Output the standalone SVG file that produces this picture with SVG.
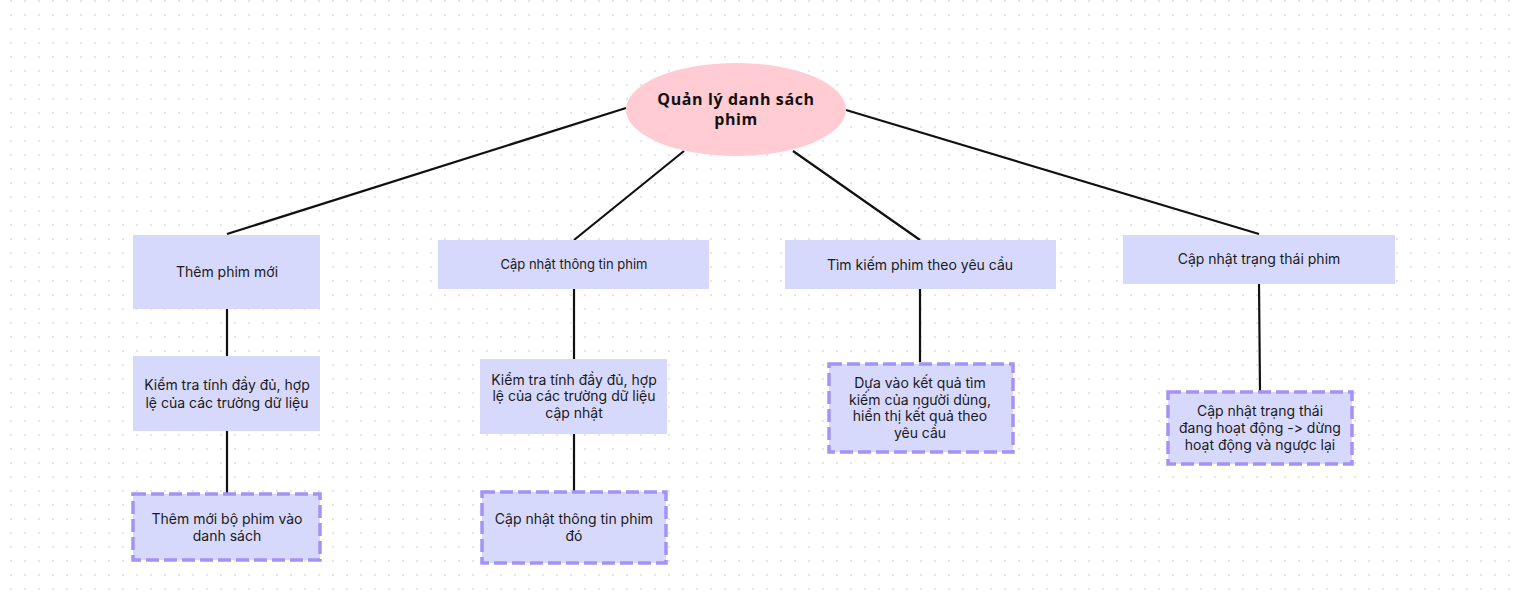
<svg xmlns="http://www.w3.org/2000/svg" width="1518" height="597" viewBox="0 0 1518 597">
<defs>
<pattern id="dots" x="10" y="0" width="14" height="14" patternUnits="userSpaceOnUse">
<rect x="0" y="0" width="2" height="2" fill="#e6e6e6"/>
</pattern>
<style>
.box{fill:#d7d9fc;}
.dash{fill:#d7d9fc;stroke:#a592f6;stroke-width:3.5;stroke-dasharray:13 5;}
.t{font-family:Inter,"Noto Sans",sans-serif;font-size:14px;fill:#1a1a1a;text-anchor:middle;font-variant-ligatures:none;font-feature-settings:"calt" 0,"liga" 0;}
.s{font-size:13px;}
.title{font-family:"Open Sans","Noto Sans",sans-serif;font-weight:bold;font-size:16px;letter-spacing:0.6px;fill:#111;text-anchor:middle;}
.edge{stroke:#111;stroke-width:2.2;fill:none;}
</style>
</defs>
<rect width="1518" height="597" fill="#ffffff"/>
<rect width="1518" height="597" fill="url(#dots)"/>
<g id="connectors">
<line class="edge" x1="626" y1="108" x2="227" y2="234"/>
<line class="edge" x1="684" y1="151" x2="574" y2="240"/>
<line class="edge" x1="793" y1="151" x2="920" y2="240"/>
<line class="edge" x1="846" y1="110" x2="1259" y2="234"/>
<line class="edge" x1="227" y1="309" x2="227" y2="356"/>
<line class="edge" x1="227" y1="431" x2="227" y2="493"/>
<line class="edge" x1="574" y1="289" x2="574" y2="359"/>
<line class="edge" x1="574" y1="434" x2="574" y2="491"/>
<line class="edge" x1="920" y1="289" x2="920" y2="362"/>
<line class="edge" x1="1259" y1="284" x2="1260" y2="391"/>
</g>
<g id="root">
<ellipse cx="736" cy="109.5" rx="110" ry="46.5" fill="#ffccd3"/>
<text class="title" x="736" y="105">Quản lý danh sách</text>
<text class="title" x="736" y="125">phim</text>
</g>
<g id="n1">
<rect class="box" x="133" y="235" width="187" height="74"/>
<text class="t" x="227" y="277">Thêm phim mới</text>
</g>
<g id="n1b">
<rect class="box" x="133" y="356" width="187" height="75"/>
<text class="t" x="227" y="390">Kiểm tra tính đầy đủ, hợp</text>
<text class="t" x="227" y="408">lệ của các trường dữ liệu</text>
</g>
<g id="n1c">
<rect class="dash" x="133" y="494" width="187" height="66"/>
<text class="t" x="227" y="524">Thêm mới bộ phim vào</text>
<text class="t" x="227" y="541">danh sách</text>
</g>
<g id="n2">
<rect class="box" x="438" y="240" width="271" height="49"/>
<text class="t s" x="574" y="269">Cập nhật thông tin phim</text>
</g>
<g id="n2b">
<rect class="box" x="480" y="359" width="187" height="75"/>
<text class="t" x="574" y="385">Kiểm tra tính đầy đủ, hợp</text>
<text class="t" x="574" y="401">lệ của các trường dữ liệu</text>
<text class="t" x="574" y="418">cập nhật</text>
</g>
<g id="n2c">
<rect class="dash" x="482" y="492" width="184" height="71"/>
<text class="t" x="574" y="524">Cập nhật thông tin phim</text>
<text class="t" x="574" y="541">đó</text>
</g>
<g id="n3">
<rect class="box" x="785" y="240" width="271" height="49"/>
<text class="t" x="920" y="270">Tìm kiếm phim theo yêu cầu</text>
</g>
<g id="n3c">
<rect class="dash" x="829" y="364" width="184" height="88"/>
<text class="t" x="920" y="388">Dựa vào kết quả tìm</text>
<text class="t" x="920" y="405">kiếm của người dùng,</text>
<text class="t" x="920" y="421">hiển thị kết quả theo</text>
<text class="t" x="920" y="438">yêu cầu</text>
</g>
<g id="n4">
<rect class="box" x="1123" y="235" width="272" height="49"/>
<text class="t" x="1259" y="264">Cập nhật trạng thái phim</text>
</g>
<g id="n4c">
<rect class="dash" x="1168" y="392" width="184" height="72"/>
<text class="t" x="1260" y="416">Cập nhật trạng thái</text>
<text class="t" x="1260" y="433">đang hoạt động -&gt; dừng</text>
<text class="t" x="1260" y="450">hoạt động và ngược lại</text>
</g>
</svg>
